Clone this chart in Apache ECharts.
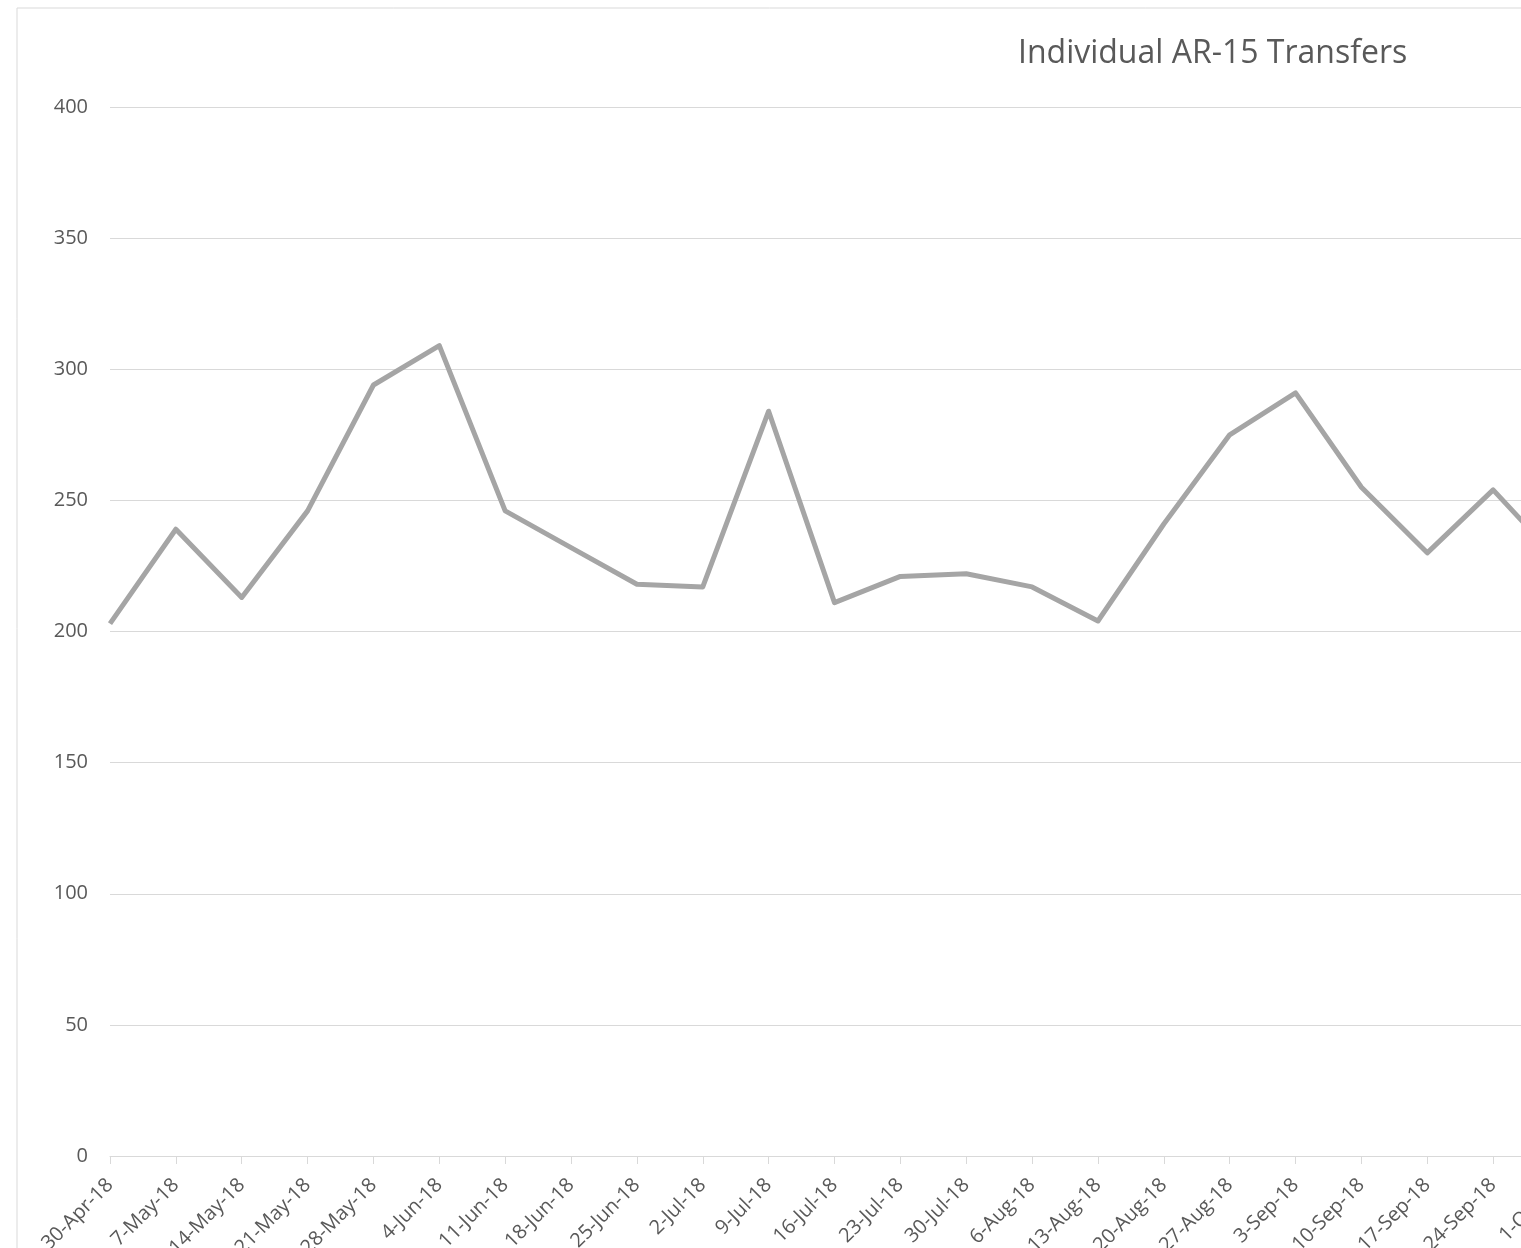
<!DOCTYPE html>
<html>
<head>
<meta charset="utf-8">
<script src="https://cdn.jsdelivr.net/npm/echarts@6/dist/echarts.min.js"></script>
<style>
  html, body { margin: 0; padding: 0; background: #fff; }
  #chart { width: 1521px; height: 1248px; }
</style>
</head>
<body>
<div id="chart"></div>
<script>
// weekly dates (last one is cut off at the right edge)
const weeks = ['30-Apr-18', '7-May-18', '14-May-18', '21-May-18', '28-May-18', '4-Jun-18',
  '11-Jun-18', '18-Jun-18', '25-Jun-18', '2-Jul-18', '9-Jul-18', '16-Jul-18', '23-Jul-18',
  '30-Jul-18', '6-Aug-18', '13-Aug-18', '20-Aug-18', '27-Aug-18', '3-Sep-18', '10-Sep-18',
  '17-Sep-18', '24-Sep-18', '1-Oct-18'];
const transfers = [203, 239, 213, 246, 294, 309, 246, 232, 218, 217, 284, 211, 221, 222,
  217, 204, 241, 275, 291, 255, 230, 254, 227];
const yTicks = [0, 50, 100, 150, 200, 250, 300, 350, 400];

let chart = echarts.init(document.getElementById('chart'));

let option = {
  backgroundColor: '#fff',
  animation: false,
  title: {
    text: 'Individual AR-15 Transfers',
    left: 1013,
    top: 33,
    textStyle: {
      fontFamily: 'Open Sans',
      fontSize: 32,
      fontWeight: 'normal',
      color: '#595959'
    }
  },
  graphic: [
    {
      type: 'rect',
      shape: { x: 17, y: 8, width: 1600, height: 1300 },
      style: { fill: 'none', stroke: '#d9d9d9', lineWidth: 1 },
      silent: true
    }
  ],
  grid: {
    left: 110,
    top: 107,
    width: 1449,
    height: 1049,
    outerBoundsMode: 'none'
  },
  xAxis: {
    type: 'category',
    data: weeks,
    boundaryGap: false,
    axisLine: { lineStyle: { color: '#d9d9d9', width: 1 } },
    axisTick: { alignWithLabel: true, length: 8, lineStyle: { color: '#d9d9d9' } },
    axisLabel: {
      rotate: 45,
      margin: 26,
      padding: [16, 0, 0, 0],
      interval: 0,
      fontFamily: 'Open Sans',
      fontSize: 20,
      color: '#595959'
    }
  },
  yAxis: {
    type: 'value',
    min: yTicks[0],
    max: yTicks[yTicks.length - 1],
    interval: 50,
    axisLine: { show: false },
    axisTick: { show: false },
    splitLine: { lineStyle: { color: '#d9d9d9', width: 1 } },
    axisLabel: {
      margin: 22,
      fontFamily: 'Open Sans',
      fontSize: 20,
      color: '#595959'
    }
  },
  series: [
    {
      type: 'line',
      data: transfers,
      symbol: 'none',
      lineStyle: { color: '#a5a5a5', width: 5, join: 'round' }
    }
  ]
};

chart.setOption(option);
</script>
</body>
</html>
